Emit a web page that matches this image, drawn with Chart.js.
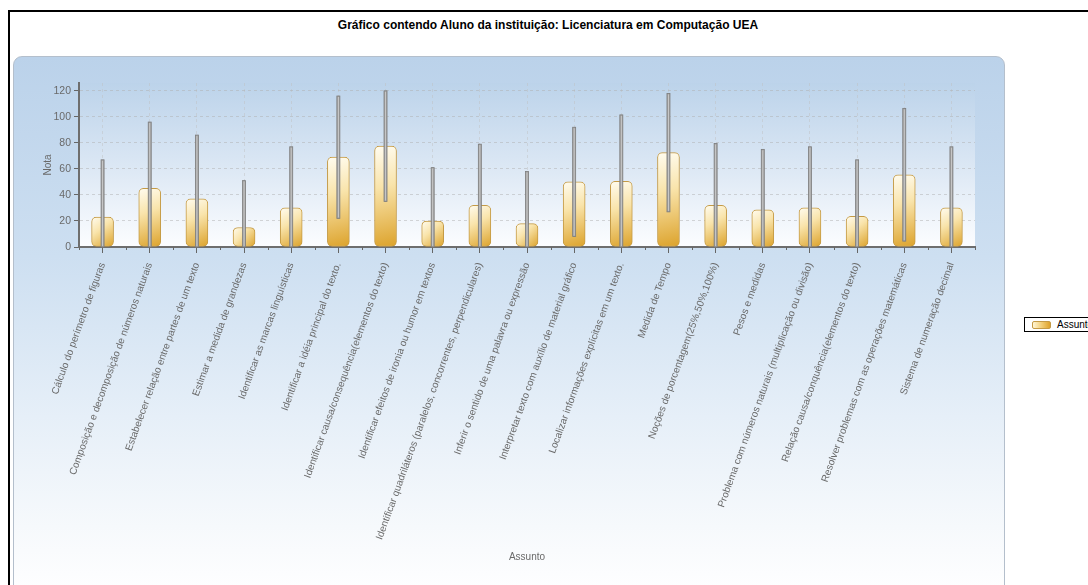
<!DOCTYPE html>
<html>
<head>
<meta charset="utf-8">
<script src="https://cdn.jsdelivr.net/npm/chart.js@4"></script>
<style>
  html, body { margin: 0; padding: 0; background: #fff; overflow: hidden; }
  body { width: 1088px; height: 585px; position: relative; font-family: Arial, "Liberation Sans", sans-serif; }
  #frame { position: absolute; left: 8px; top: 10px; width: 1200px; height: 700px; border-left: 2px solid #000; border-top: 2px solid #000; }
  #titulo { position: absolute; left: 0; top: 18px; width: 1096px; text-align: center; font: bold 12px "Liberation Sans", Arial, sans-serif; color: #000; }
  #painel { position: absolute; left: 13px; top: 56px; width: 990px; height: 600px; border: 1px solid #b4bfcc; border-radius: 9px;
            background: linear-gradient(to bottom, #bbd2ea 0px, #cddff1 200px, #e6eff8 360px, #f6f9fc 470px, #ffffff 540px); }
  #grafico { position: absolute; left: 0; top: 0; }
  #legenda { position: absolute; left: 1024px; top: 317px; height: 13px; width: 90px; border: 1px solid #000; background: #fff;
             font: 10px "Liberation Sans", Arial, sans-serif; color: #000; white-space: nowrap; }
  #legenda .cor { position: absolute; left: 7px; top: 3px; width: 17px; height: 6px; border: 1px solid #c49a45; border-radius: 2px;
                  background: linear-gradient(to right, #fff6d6, #f3cf78, #dea22a); }
  #legenda .txt { position: absolute; left: 32px; top: 0px; line-height: 13px; }
</style>
</head>
<body>
<div id="frame"></div>
<div id="titulo">Gráfico contendo Aluno da instituição: Licenciatura em Computação UEA</div>
<div id="painel"></div>
<canvas id="grafico" width="1088" height="585"></canvas>
<div id="legenda"></div>
<script>
// assuntos (eixo x)
const assuntos = [
  'Cálculo do perímetro de figuras',
  'Composição e decomposição de números naturais',
  'Estabelecer relação entre partes de um texto',
  'Estimar a medida de grandezas',
  'Identificar as marcas linguísticas',
  'Identificar a idéia principal do texto.',
  'Identificar causa/consequência(elementos do texto)',
  'Identificar efeitos de ironia ou humor em textos',
  'Identificar quadriláteros (paralelos, concorrentes, perpendiculares)',
  'Inferir o sentido de uma palavra ou expressão',
  'Interpretar texto com auxílio de material gráfico',
  'Localizar informações explícitas em um texto.',
  'Medida de Tempo',
  'Noções de porcentagem(25%,50%,100%)',
  'Pesos e medidas',
  'Problema com números naturais (multiplicação ou divisão)',
  'Relação causa/conquência(elementos do texto)',
  'Resolver problemas com as operações matemáticas',
  'Sistema de numeração decimal'
];

// nota média por assunto
const medias  = [23, 45, 37, 15, 30, 69, 77.5, 20, 32, 18, 50, 50.5, 72.5, 32, 28.5, 30, 23.5, 55.5, 30];
// desvio (barra de erro)
const desvios = [44, 51, 49, 36, 47, 47, 42.5, 41, 47, 40, 42, 51, 45.5, 47.5, 46.5, 47, 43.5, 51, 47];

const yTicks = [0, 10, 20, 30, 40, 50, 60, 70, 80, 90, 100, 110, 120];

function corBarra(c) {
  const chart = c.chart;
  if (!chart.chartArea || c.dataIndex === undefined) return '#efc45e';
  const x = chart.scales.x.getPixelForValue(c.dataIndex);
  const y = chart.scales.y.getPixelForValue(medias[c.dataIndex]);
  const b = chart.scales.y.getPixelForValue(0);
  const g = chart.ctx.createLinearGradient(x - 11, y, x + 11, b);
  g.addColorStop(0, '#fffcf0');
  g.addColorStop(0.4, '#f9e4ab');
  g.addColorStop(1, '#dca22a');
  return g;
}

// fundo da area de plotagem
const fundoPlot = {
  id: 'fundoPlot',
  beforeDraw(chart) {
    const { ctx, chartArea: a } = chart;
    const g = ctx.createLinearGradient(0, a.top, 0, a.bottom);
    g.addColorStop(0, '#bcd3ea');
    g.addColorStop(0.5, '#dbe7f4');
    g.addColorStop(1, '#fcfdff');
    ctx.save();
    ctx.fillStyle = g;
    ctx.fillRect(a.left, a.top, a.right - a.left, a.bottom - a.top);
    ctx.restore();
  }
};

// barras de erro + ticks menores do eixo x
const barrasErro = {
  id: 'barrasErro',
  afterDatasetsDraw(chart) {
    const { ctx, scales: { x, y } } = chart;
    ctx.save();
    medias.forEach((m, i) => {
      const px = x.getPixelForValue(i);
      const top = y.getPixelForValue(m + desvios[i]);
      const bot = y.getPixelForValue(Math.max(0, m - desvios[i]));
      ctx.fillStyle = '#a3a3a3';
      ctx.fillRect(px - 1.5, top, 3, bot - top);
      ctx.strokeStyle = '#7c7c7c';
      ctx.lineWidth = 0.8;
      ctx.strokeRect(px - 1.5, top, 3, bot - top);
      ctx.fillStyle = '#cfcfcf';
      ctx.fillRect(px - 0.4, top + 1, 0.8, bot - top - 2);
    });
    // ticks menores entre categorias
    const passo = x.getPixelForValue(1) - x.getPixelForValue(0);
    const base = y.getPixelForValue(0);
    ctx.strokeStyle = '#666';
    ctx.lineWidth = 1;
    for (let i = 0; i <= assuntos.length; i++) {
      const px = Math.round(x.getPixelForValue(i) - passo / 2) + 0.5;
      ctx.beginPath();
      ctx.moveTo(px, base);
      ctx.lineTo(px, base + 3);
      ctx.stroke();
    }
    ctx.restore();
  }
};

const chart = new Chart(document.getElementById('grafico'), {
  type: 'bar',
  data: {
    labels: assuntos,
    datasets: [{
      label: 'Assunto',
      data: medias,
      backgroundColor: corBarra,
      borderColor: '#c49a45',
      borderWidth: 1,
      borderRadius: 5,
      borderSkipped: false,
      barThickness: 22
    }]
  },
  options: {
    responsive: false,
    animation: false,
    layout: { padding: { left: 38, right: 113, top: 83, bottom: 19 } },
    plugins: {
      legend: { display: false },
      tooltip: { enabled: false }
    },
    scales: {
      x: {
        afterFit: (s) => { s.height = 319; },
        grid: {
          offset: false,
          color: 'rgba(190,190,190,0.45)',
          lineWidth: 1,
          tickColor: '#666',
          tickLength: 6
        },
        border: { color: '#6e6e6e', width: 2, dash: [3, 3] },
        ticks: {
          autoSkip: false,
          minRotation: 70,
          maxRotation: 70,
          padding: 8,
          color: '#6a6a6a',
          font: { family: 'Liberation Sans, Arial', size: 10 }
        },
        title: {
          display: true,
          text: 'Assunto',
          color: '#6a6a6a',
          font: { family: 'Liberation Sans, Arial', size: 10 },
          padding: { top: 0, bottom: 3 }
        }
      },
      y: {
        min: 0,
        max: 126,
        afterFit: (s) => { s.width = 41; },
        afterBuildTicks: (s) => { s.ticks = yTicks.map(v => ({ value: v })); },
        grid: {
          color: (c) => (c.tick && c.tick.value % 20 === 0 && c.tick.value !== 0) ? 'rgba(175,175,175,0.5)' : 'rgba(0,0,0,0)',
          tickColor: '#666',
          tickLength: 5
        },
        border: { color: '#6e6e6e', width: 2, dash: [3, 3] },
        ticks: {
          padding: 3,
          color: '#6a6a6a',
          font: { family: 'Liberation Sans, Arial', size: 10.5 },
          callback: (v) => (v % 20 === 0 ? v : '')
        },
        title: {
          display: true,
          text: 'Nota',
          color: '#6a6a6a',
          font: { family: 'Liberation Sans, Arial', size: 10 },
          padding: { top: 4, bottom: 0 }
        }
      }
    }
  },
  plugins: [fundoPlot, barrasErro]
});

// legenda
const leg = document.getElementById('legenda');
chart.data.datasets.forEach(ds => {
  leg.innerHTML += '<span class="cor"></span><span class="txt">' + ds.label + '</span>';
});
</script>
</body>
</html>
